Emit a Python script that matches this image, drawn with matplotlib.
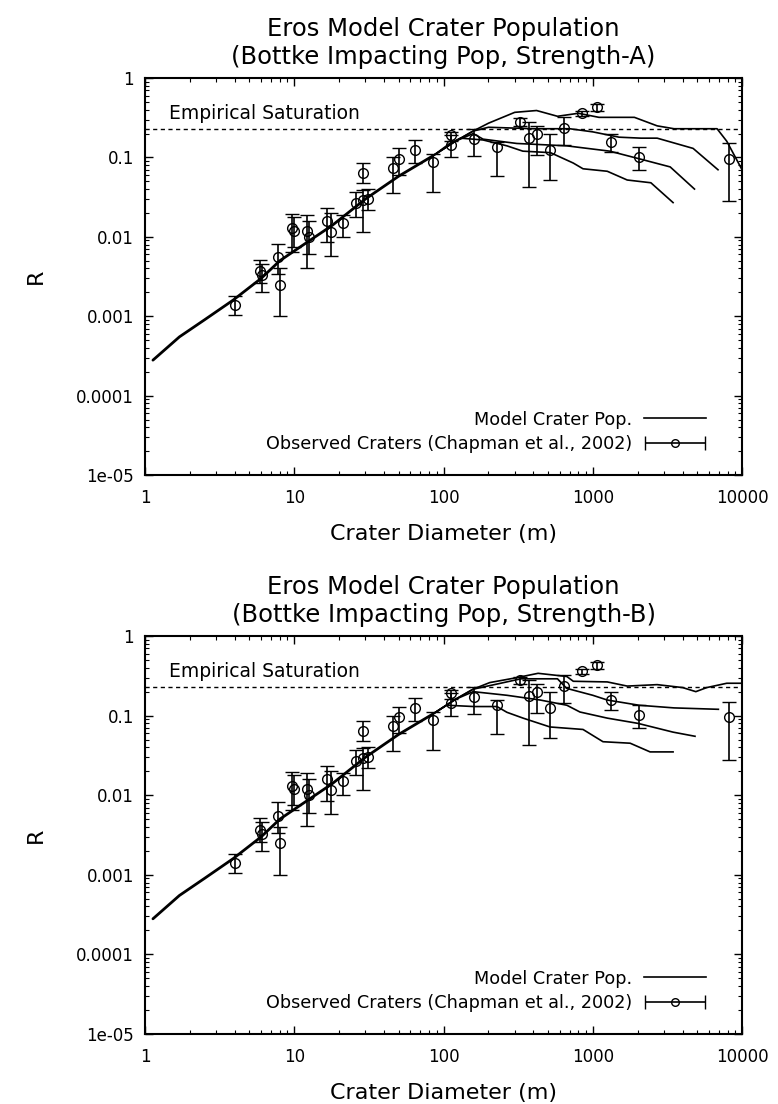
import numpy as np
import matplotlib
matplotlib.use("Agg")
import matplotlib.pyplot as plt
from matplotlib.lines import Line2D
from matplotlib.container import ErrorbarContainer
from matplotlib.legend_handler import HandlerErrorbar
from matplotlib.ticker import LogLocator, NullFormatter

# observed craters (Chapman et al., 2002): diameter, R, lower / upper end of error bar
obs_d = [4.0, 5.9, 6.1, 7.8, 8.0, 9.7, 10.0, 12.2, 12.5, 16.6, 17.5, 21.2, 25.9, 28.9,
         28.9, 31.0, 46, 50, 64, 85, 112, 113, 160, 228, 326, 374, 423, 517, 642, 847,
         1067, 1325, 2040, 8180]
obs_r = [0.0014, 0.0037, 0.0033, 0.0055, 0.0025, 0.013, 0.012, 0.012, 0.010, 0.016,
         0.0115, 0.015, 0.027, 0.029, 0.064, 0.030, 0.074, 0.096, 0.124, 0.088, 0.19,
         0.145, 0.17, 0.135, 0.28, 0.176, 0.20, 0.124, 0.235, 0.36, 0.43, 0.157, 0.102,
         0.096]
obs_lo = [0.00104, 0.0026, 0.0020, 0.0034, 0.0010, 0.0065, 0.0075, 0.0041, 0.006, 0.0085,
          0.0058, 0.010, 0.018, 0.0115, 0.048, 0.022, 0.036, 0.06, 0.085, 0.037, 0.16,
          0.10, 0.104, 0.058, 0.25, 0.043, 0.107, 0.052, 0.143, 0.33, 0.39, 0.117, 0.069,
          0.028]
obs_hi = [0.0018, 0.0051, 0.0046, 0.0081, 0.0040, 0.0195, 0.018, 0.019, 0.016, 0.023,
          0.020, 0.019, 0.037, 0.039, 0.085, 0.040, 0.10, 0.13, 0.166, 0.11, 0.21,
          0.19, 0.23, 0.157, 0.31, 0.28, 0.25, 0.197, 0.32, 0.39, 0.47, 0.197, 0.135,
          0.15]

# common part of the model curves (small craters)
trunk_d = [1.13, 1.7, 2.5, 3.9, 6.0, 8.0, 11, 18, 30, 50, 85]
trunk_r = [2.8e-4, 5.5e-4, 9.0e-4, 1.6e-3, 3.0e-3, 5.0e-3, 7.5e-3, 0.014, 0.030, 0.058, 0.105]

# Strength-A model curves (tails beyond the trunk)
a1_d = [120, 158, 200, 300, 420, 580, 800, 1100, 1900, 2700, 3500, 6800, 7900, 10000]
a1_r = [0.16, 0.215, 0.27, 0.37, 0.39, 0.33, 0.36, 0.32, 0.32, 0.25, 0.23, 0.23, 0.16, 0.07]
a2_d = [120, 158, 200, 400, 700, 1000, 1500, 2100, 2700, 4700, 6900]
a2_r = [0.16, 0.215, 0.24, 0.23, 0.23, 0.21, 0.18, 0.175, 0.175, 0.13, 0.07]
a3_d = [120, 158, 184, 310, 670, 1300, 2100, 3300, 4800]
a3_r = [0.16, 0.2, 0.17, 0.15, 0.14, 0.12, 0.095, 0.076, 0.04]
a4_d = [110, 130, 184, 266, 340, 520, 740, 860, 1250, 1700, 2450, 3450]
a4_r = [0.15, 0.175, 0.166, 0.14, 0.12, 0.115, 0.085, 0.072, 0.067, 0.052, 0.048, 0.027]

# Strength-B model curves
b1_d = [120, 158, 204, 310, 430, 670, 740, 1250, 1700, 2700, 4000, 4900, 5800, 7900, 10000]
b1_r = [0.16, 0.215, 0.26, 0.30, 0.34, 0.31, 0.27, 0.265, 0.235, 0.245, 0.225, 0.20, 0.225,
        0.255, 0.255]
b2_d = [120, 158, 230, 330, 580, 668, 1000, 1250, 2040, 3500, 6940]
b2_r = [0.16, 0.215, 0.25, 0.29, 0.29, 0.22, 0.18, 0.157, 0.135, 0.125, 0.12]
b3_d = [120, 158, 266, 444, 670, 820, 1250, 2000, 3450, 4840]
b3_r = [0.16, 0.2, 0.18, 0.157, 0.135, 0.111, 0.093, 0.08, 0.062, 0.055]
b4_d = [105, 160, 228, 266, 341, 517, 860, 1170, 1780, 2420, 3450]
b4_r = [0.135, 0.13, 0.13, 0.11, 0.093, 0.072, 0.067, 0.047, 0.045, 0.035, 0.035]

saturation = 0.23
x_ticks = [1, 10, 100, 1000, 10000]
x_labels = ["1", "10", "100", "1000", "10000"]
y_ticks = [1e-5, 1e-4, 1e-3, 1e-2, 1e-1, 1]
y_labels = ["1e-05", "0.0001", "0.001", "0.01", "0.1", "1"]

plt.rcParams["font.family"] = ["DejaVu Sans"]


def draw_panel(ax, tails, title):
    # several model runs lie on top of each other for small craters -> thick trunk
    ax.plot(trunk_d, trunk_r, color="black", lw=2.0, solid_capstyle="round")
    for d, r in tails:
        ax.plot(trunk_d[-1:] + d, trunk_r[-1:] + r, color="black", lw=1.2)

    ax.axhline(saturation, color="black", lw=1.0, ls=(0, (3, 2.5)))
    ax.text(1.45, 0.36, "Empirical Saturation", fontsize=13.5, va="center", ha="left")

    obs_r_arr = np.array(obs_r)
    yerr = [obs_r_arr - np.array(obs_lo), np.array(obs_hi) - obs_r_arr]
    ax.errorbar(obs_d, obs_r, yerr=yerr, fmt="o", mfc="none", mec="black", color="black",
                ms=7, mew=1.0, elinewidth=1.2, capsize=5, capthick=1.2)

    ax.set_xscale("log")
    ax.set_yscale("log")
    ax.set_xlim(1, 10000)
    ax.set_ylim(1e-5, 1)
    ax.set_xticks(x_ticks)
    ax.set_xticklabels(x_labels)
    ax.set_yticks(y_ticks)
    ax.set_yticklabels(y_labels)
    ax.xaxis.set_minor_locator(LogLocator(base=10, subs=np.arange(2, 10)))
    ax.yaxis.set_minor_locator(LogLocator(base=10, subs=np.arange(2, 10)))
    ax.xaxis.set_minor_formatter(NullFormatter())
    ax.yaxis.set_minor_formatter(NullFormatter())
    ax.tick_params(which="both", direction="in", top=True, right=True, labelsize=12)
    ax.tick_params(which="major", length=6, width=1.0)
    ax.tick_params(which="minor", length=3, width=0.8)
    ax.tick_params(axis="x", pad=10)
    ax.tick_params(axis="y", pad=8)
    for s in ax.spines.values():
        s.set_linewidth(1.5)

    ax.set_xlabel("Crater Diameter (m)", fontsize=16, labelpad=12)
    ax.set_ylabel("R", fontsize=16, labelpad=22)
    ax.set_title(title, fontsize=17.5, pad=10, linespacing=1.2)

    # legend, gnuplot style: text first, horizontal error bar sample
    model_h = Line2D([], [], color="black", lw=1.2)
    obs_h = ax.errorbar([np.nan], [np.nan], xerr=[1], fmt="o", mfc="none", mec="black",
                        color="black", ms=5.5, mew=1.0, elinewidth=1.2, capsize=5)
    ax.legend([model_h, obs_h], ["Model Crater Pop.", "Observed Craters (Chapman et al., 2002)"],
              loc="lower right", bbox_to_anchor=(0.96, 0.025), frameon=False, fontsize=12.7,
              markerfirst=False, handlelength=3.5, numpoints=1, handletextpad=0.7,
              labelspacing=0.35, borderpad=0.2,
              handler_map={ErrorbarContainer: HandlerErrorbar(xerr_size=1.7)})


fig = plt.figure(figsize=(7.78, 11.04), dpi=100)
ax1 = fig.add_axes([0.1864, 0.5697, 0.7674, 0.3596])
ax2 = fig.add_axes([0.1864, 0.0634, 0.7674, 0.3605])

draw_panel(ax1, [(a1_d, a1_r), (a2_d, a2_r), (a3_d, a3_r), (a4_d, a4_r)],
           "Eros Model Crater Population\n(Bottke Impacting Pop, Strength-A)")
draw_panel(ax2, [(b1_d, b1_r), (b2_d, b2_r), (b3_d, b3_r), (b4_d, b4_r)],
           "Eros Model Crater Population\n(Bottke Impacting Pop, Strength-B)")

fig.savefig("out.png", dpi=100)
